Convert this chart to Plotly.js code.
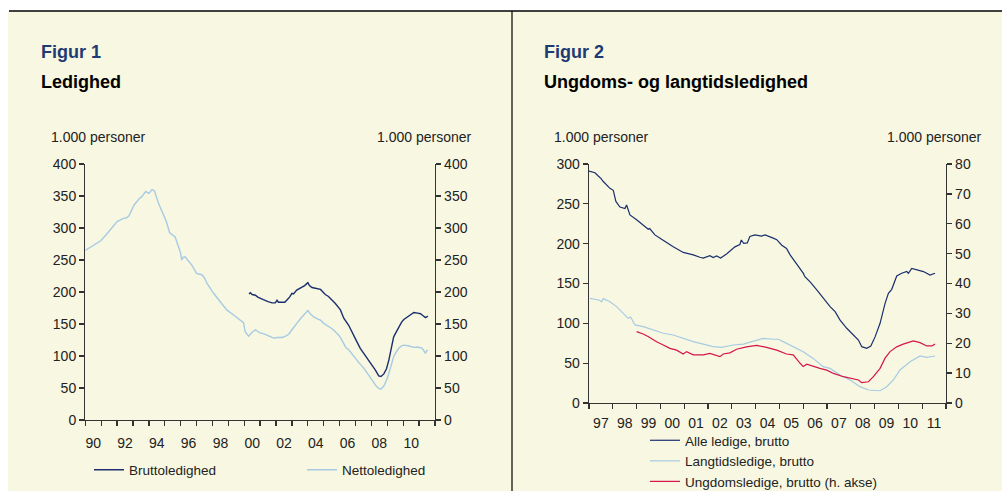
<!DOCTYPE html>
<html>
<head>
<meta charset="utf-8">
<script src="https://cdn.plot.ly/plotly-3.0.1.min.js"></script>
<style>html,body{margin:0;padding:0;background:#fff;}#chart{width:1002px;height:491px;}</style>
</head>
<body>
<div id="chart"></div>
<script>
// ---- Figur 1: Ledighed (1.000 personer) ----
const nettoT = [1990.0,1990.13,1990.3,1990.45,1990.6,1990.97,1991.3,1991.6,1992.0,1992.4,1992.6,1992.75,1993.07,1993.4,1993.55,1993.8,1994.0,1994.2,1994.35,1994.6,1994.9,1995.1,1995.3,1995.45,1995.65,1995.97,1996.07,1996.15,1996.28,1996.5,1996.7,1997.0,1997.33,1997.5,1997.65,1998.07,1998.5,1998.9,1999.33,1999.75,1999.95,2000.06,2000.27,2000.5,2000.7,2001.0,2001.2,2001.5,2001.85,2002.1,2002.38,2002.6,2002.8,2003.0,2003.2,2003.4,2003.63,2003.8,2004.0,2004.15,2004.37,2004.6,2004.8,2005.0,2005.2,2005.5,2005.73,2006.0,2006.2,2006.4,2006.6,2006.89,2007.2,2007.52,2007.8,2008.05,2008.3,2008.46,2008.6,2008.78,2008.95,2009.1,2009.25,2009.4,2009.55,2009.72,2009.9,2010.04,2010.3,2010.5,2010.67,2010.9,2011.2,2011.3,2011.4,2011.47,2011.55];
const nettoV = [265,267,269,271,274,280,289,298,310,315,316,319,336,346,349,357,354,360,358,339,322,310,293,290,286,263,250,254,255,248,242,229,227,222,214,198,185,172,164,156,152,138,131,137,141,136,135,132,128,129,129,131,134,141,148,154,161,165,171,166,161,158,156,151,148,143,138,131,122,113,109,99,90,81,71,62.5,53,49.5,48,53,62,73,86,99,106,112,116,117,116,114.5,113.5,114,112,108,104,108,109];
const bruttoT = [2000.3,2000.38,2000.5,2000.7,2000.85,2001.0,2001.2,2001.5,2001.75,2001.95,2002.06,2002.15,2002.38,2002.55,2002.7,2002.85,2003.0,2003.1,2003.3,2003.45,2003.63,2003.8,2004.0,2004.1,2004.26,2004.5,2004.8,2004.95,2005.1,2005.3,2005.5,2005.73,2006.05,2006.26,2006.57,2006.79,2007.05,2007.3,2007.55,2007.83,2008.05,2008.25,2008.46,2008.6,2008.78,2008.95,2009.1,2009.25,2009.4,2009.55,2009.72,2009.9,2010.04,2010.2,2010.35,2010.5,2010.67,2010.9,2011.09,2011.25,2011.4,2011.48,2011.55];
const bruttoV = [197,199,196,195,192,190,188,185,183,183,187,184,184,184,188,192,198,197,203,205,208,210,214.5,210,207,206,204,200,196,193,188,182,172,159,148,138,124,112,103,94,85,78,69,68,72,80,94,110,130,137,146,153,157,160,162.5,165,168,167,166,163,160,161,162.5];
const fig1Ticks = [1990.5,1992.5,1994.5,1996.5,1998.5,2000.5,2002.5,2004.5,2006.5,2008.5,2010.5];
const fig1Labels = ['90','92','94','96','98','00','02','04','06','08','10'];

// ---- Figur 2: Ungdoms- og langtidsledighed ----
const alleT = [1997.0,1997.1,1997.25,1997.39,1997.5,1997.6,1997.74,1997.88,1998.02,1998.06,1998.13,1998.3,1998.51,1998.58,1998.65,1998.72,1999.0,1999.28,1999.49,1999.55,1999.77,2000.05,2000.26,2000.54,2000.96,2001.38,2001.66,2001.8,2002.08,2002.22,2002.36,2002.53,2002.78,2003.13,2003.34,2003.4,2003.5,2003.65,2003.76,2003.97,2004.25,2004.4,2004.74,2004.89,2005.1,2005.3,2005.45,2005.73,2006.0,2006.07,2006.29,2006.57,2006.84,2007.13,2007.34,2007.55,2007.83,2008.1,2008.32,2008.46,2008.67,2008.84,2009.02,2009.23,2009.44,2009.58,2009.72,2009.93,2010.14,2010.35,2010.42,2010.56,2010.84,2011.05,2011.33,2011.54];
const alleV = [291,290,289,285,282,278,274,269.5,267,262,253,246,244,248.5,242,236,230,223,218,219,211,205.5,201,196,189,186,183,182,185,182.5,184.5,182,187,196,199,204.6,200.5,201,209,211,209.6,211,207,205,198,194,186,175,163,158.5,152,142,131.4,121,114.6,104,93.8,85,79,70.7,68.6,71.5,83,100,125,137.7,142.7,159.4,162.8,165,162.8,169,167,165,160.7,162.8];
const langT = [1997.04,1997.32,1997.45,1997.53,1997.6,1997.88,1998.16,1998.44,1998.65,1998.75,1998.93,1999.28,1999.7,2000.12,2000.54,2000.96,2001.38,2001.8,2002.22,2002.57,2003.06,2003.48,2004.04,2004.32,2004.74,2004.95,2005.16,2005.58,2006.0,2006.42,2006.84,2007.13,2007.55,2007.97,2008.39,2008.74,2009.23,2009.51,2009.79,2010.07,2010.49,2010.91,2011.19,2011.54];
const langV = [131.4,130,129,127,131,127,121,112.6,106.3,108,98,95.8,91.6,87.5,85.4,81.2,77,74,70.7,69.9,72.8,74,79,81.2,80,80,77,70.7,64.4,56,45.6,43.5,35,29,20.5,16.3,15.4,20.5,29,41.4,51.8,59,57.4,59];
const ungT = [1999.0,1999.28,1999.5,1999.84,2000.12,2000.4,2000.68,2000.96,2001.1,2001.38,2001.8,2002.08,2002.5,2002.64,2002.92,2003.2,2003.62,2004.04,2004.46,2004.89,2005.3,2005.58,2005.87,2006.0,2006.15,2006.42,2006.7,2006.99,2007.27,2007.69,2007.97,2008.32,2008.46,2008.74,2008.95,2009.23,2009.44,2009.65,2009.93,2010.2,2010.63,2010.91,2011.19,2011.4,2011.54];
const ungV = [23.9,23.1,22.2,20.5,19.4,18.3,17.7,16.4,17.2,16.1,16.1,16.6,15.5,16.4,16.8,18,18.8,19.3,18.6,17.7,16.4,16.1,13.3,12.2,13,12.2,11.6,11,9.9,8.8,8.3,7.7,6.8,7.1,8.8,11.6,15,17.2,18.8,19.7,20.8,20.2,19.1,19.1,19.7];
const fig2Ticks = [1997.5,1998.5,1999.5,2000.5,2001.5,2002.5,2003.5,2004.5,2005.5,2006.5,2007.5,2008.5,2009.5,2010.5,2011.5];
const fig2Labels = ['97','98','99','00','01','02','03','04','05','06','07','08','09','10','11'];

const W = 1002, H = 491;
const px = v => v / W;
const py = v => 1 - v / H;
const NAVY = '#1b2f6f', LIGHT = '#a6cbe3', RED = '#d4164c', BG = '#f8f7e1';
const FONT = 'Liberation Sans, Arial, sans-serif';
const AX = '#333333';

const traces = [
  {x: bruttoT, y: bruttoV, name: 'Bruttoledighed', type: 'scatter', mode: 'lines',
   line: {color: NAVY, width: 1.4}, xaxis: 'x', yaxis: 'y', legend: 'legend'},
  {x: nettoT, y: nettoV, name: 'Nettoledighed', type: 'scatter', mode: 'lines',
   line: {color: LIGHT, width: 1.4}, xaxis: 'x', yaxis: 'y2', legend: 'legend'},
  {x: alleT, y: alleV, name: 'Alle ledige, brutto', type: 'scatter', mode: 'lines',
   line: {color: NAVY, width: 1.2}, xaxis: 'x2', yaxis: 'y3', legend: 'legend2'},
  {x: langT, y: langV, name: 'Langtidsledige, brutto', type: 'scatter', mode: 'lines',
   line: {color: LIGHT, width: 1.2}, xaxis: 'x2', yaxis: 'y3', legend: 'legend2'},
  {x: ungT, y: ungV, name: 'Ungdomsledige, brutto (h. akse)', type: 'scatter', mode: 'lines',
   line: {color: RED, width: 1.2}, xaxis: 'x2', yaxis: 'y4', legend: 'legend2'}
];

const tickFont = {family: FONT, size: 14, color: '#222'};
function xAxis(domain, range, tv, tt, yref, tl) {
  return {domain: domain, range: range, anchor: yref, tickmode: 'array', tickvals: tv, ticktext: tt,
    ticks: 'outside', ticklen: tl, tickcolor: 'rgba(0,0,0,0)', showline: true, linecolor: AX, linewidth: 1.3,
    showgrid: false, zeroline: false, tickfont: tickFont, fixedrange: true, automargin: false,
    minor: {tickmode: 'linear', tick0: range[0], dtick: 1, ticks: 'outside', ticklen: 5, tickcolor: AX, tickwidth: 1.3, showgrid: false}};
}
function yAxis(domain, range, dtick, side, anchor, overlay) {
  const a = {domain: domain, range: range, dtick: dtick, tick0: 0, side: side, anchor: anchor,
    ticks: 'outside', ticklen: 5, tickcolor: AX, tickwidth: 1.3, showline: true, linecolor: AX, linewidth: 1.3,
    showgrid: false, zeroline: false, tickfont: tickFont, fixedrange: true, automargin: false};
  if (overlay) a.overlaying = overlay;
  return a;
}

const d1x = [px(85.3), px(435)], d1y = [py(420), py(164)];
const d2x = [px(589), px(946)], d2y = [py(403), py(164)];

const ann = (text, x, y, opts) => Object.assign({text: text, x: px(x), y: py(y), xref: 'paper', yref: 'paper',
  showarrow: false, xanchor: 'left', yanchor: 'middle', font: {family: FONT, size: 14, color: '#222'}}, opts || {});

const layout = {
  width: W, height: H,
  margin: {l: 0, r: 0, t: 0, b: 0, pad: 0, autoexpand: false},
  paper_bgcolor: '#ffffff', plot_bgcolor: 'rgba(0,0,0,0)',
  font: {family: FONT, size: 14, color: '#222'},
  xaxis: xAxis(d1x, [1990, 2012], fig1Ticks, fig1Labels, 'y', 10),
  yaxis: yAxis(d1y, [0, 400], 50, 'left', 'x'),
  yaxis2: yAxis(d1y, [0, 400], 50, 'right', 'x', 'y'),
  xaxis2: xAxis(d2x, [1997, 2012], fig2Ticks, fig2Labels, 'y3', 7),
  yaxis3: yAxis(d2y, [0, 300], 50, 'left', 'x2'),
  yaxis4: yAxis(d2y, [0, 80], 10, 'right', 'x2', 'y3'),
  legend: {orientation: 'h', xref: 'container', yref: 'container', x: px(89), y: py(470), xanchor: 'left', yanchor: 'middle',
    bgcolor: 'rgba(0,0,0,0)', font: {family: FONT, size: 13.5, color: '#222'},
    entrywidth: 168, entrywidthmode: 'pixels', itemwidth: 30},
  legend2: {orientation: 'v', xref: 'container', yref: 'container', x: px(645), y: py(425), xanchor: 'left', yanchor: 'top',
    bgcolor: 'rgba(0,0,0,0)', font: {family: FONT, size: 13.5, color: '#222'}, itemwidth: 30, tracegroupgap: 0},
  shapes: [
    {type: 'rect', xref: 'paper', yref: 'paper', x0: px(8), x1: 1, y0: 0, y1: py(11.5), fillcolor: BG, line: {width: 0}, layer: 'below'},
    {type: 'line', xref: 'paper', yref: 'paper', x0: px(9), x1: 1, y0: py(11), y1: py(11), line: {color: '#000', width: 1.5}},
    {type: 'line', xref: 'paper', yref: 'paper', x0: px(512), x1: px(512), y0: 0, y1: py(11), line: {color: '#000', width: 1.2}}
  ],
  annotations: [
    ann('<b>Figur 1</b>', 39, 52, {font: {family: FONT, size: 18, color: '#1f3b73'}}),
    ann('<b>Ledighed</b>', 39, 82, {font: {family: FONT, size: 18, color: '#000'}}),
    ann('1.000 personer', 49, 137),
    ann('1.000 personer', 474, 137, {xanchor: 'right'}),
    ann('<b>Figur 2</b>', 542, 52, {font: {family: FONT, size: 18, color: '#1f3b73'}}),
    ann('<b>Ungdoms- og langtidsledighed</b>', 542, 82, {font: {family: FONT, size: 18, color: '#000'}}),
    ann('1.000 personer', 552, 137),
    ann('1.000 personer', 984, 137, {xanchor: 'right'})
  ]
};

Plotly.newPlot('chart', traces, layout, {displayModeBar: false, staticPlot: true});
</script>
</body>
</html>
